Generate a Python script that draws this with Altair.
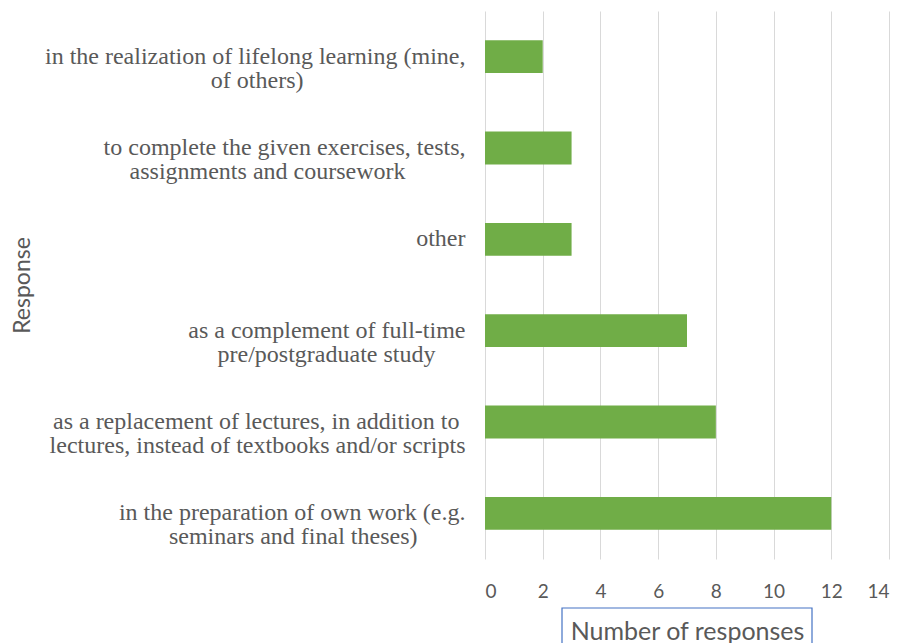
import altair as alt
import pandas as pd

categories = [
    "in the realization of lifelong learning (mine,|of others)",
    "to complete the given exercises, tests,|assignments and coursework",
    "other",
    "as a complement  of full-time|pre/postgraduate study",
    "as a replacement of lectures, in addition to|lectures, instead of textbooks and/or scripts",
    "in the preparation of own work (e.g.|seminars and final theses)",
]
responses = [2, 3, 3, 7, 8, 12]
x_ticks = [0, 2, 4, 6, 8, 10, 12, 14]

df = pd.DataFrame({"Response": categories, "Count": responses})

W, H = 404, 548

# split label into lines; pad the shorter line with trailing no-break spaces
# (closed by a zero-width space so they are not trimmed) so that right-aligned
# lines look centred within their block, as in the original
NB = "\u00a0"
ZW = "\u200b"
L0 = "split(datum.label,'|')[0]"
L1 = "split(datum.label,'|')[1]"
label_expr = (
    f"length(split(datum.label,'|')) < 2 ? datum.label : ["
    f"pad({L0}, length({L0}) + max(0, round((length({L1}) - length({L0})) * 0.75)), '{NB}') + '{ZW}',"
    f"pad({L1}, length({L1}) + max(0, round((length({L0}) - length({L1})) * 0.75)), '{NB}') + '{ZW}']"
)

bars = alt.Chart(df).mark_bar(color="#70AD47").encode(
    x=alt.X(
        "Count:Q",
        scale=alt.Scale(domain=[0, 14], nice=False),
        axis=alt.Axis(
            values=x_ticks,
            title="Number of responses",
            grid=True,
            gridColor="#D9D9D9",
            gridWidth=1,
            domain=False,
            ticks=False,
            labelFont="Lato",
            labelFontSize=19,
            labelColor="#595959",
            labelPadding=23,
            titleFont="Lato",
            titleFontSize=25,
            titleFontWeight="normal",
            titleColor="#595959",
            titleX=W / 2,
            titleY=72,
            titleAlign="center",
            titleBaseline="middle",
        ),
    ),
    y=alt.Y(
        "Response:N",
        sort=categories,
        scale=alt.Scale(paddingInner=0.64, paddingOuter=0.32),
        axis=alt.Axis(
            title="Response",
            domain=False,
            ticks=False,
            grid=False,
            labelExpr=label_expr,
            labelFont="Liberation Serif",
            labelFontSize=24,
            labelColor="#595959",
            labelPadding=20,
            labelLineHeight=24,
            labelLimit=600,
            labelAlign="right",
            labelBaseline="middle",
            titleFont="Lato",
            titleFontSize=23,
            titleFontWeight="normal",
            titleColor="#595959",
            titleAngle=270,
            titleX=22 - 485,
            titleY=H / 2,
            titleAlign="center",
            titleBaseline="middle",
        ),
    ),
)

box_df = pd.DataFrame({"k": [0]})
box = alt.Chart(box_df).mark_rect(
    fillOpacity=0, stroke="#4472C4", strokeWidth=1.2
).encode(
    x=alt.value(77), x2=alt.value(327), y=alt.value(597), y2=alt.value(660)
)

chart = alt.layer(bars, box).properties(
    width=W,
    height=H,
    background="white",
    autosize=alt.AutoSizeParams(type="none"),
    padding={"left": 477, "top": 3, "right": 6, "bottom": 90},
).configure_view(stroke="transparent", strokeWidth=0)

chart.save("out.html", embed_options={"renderer": "svg", "actions": False})
